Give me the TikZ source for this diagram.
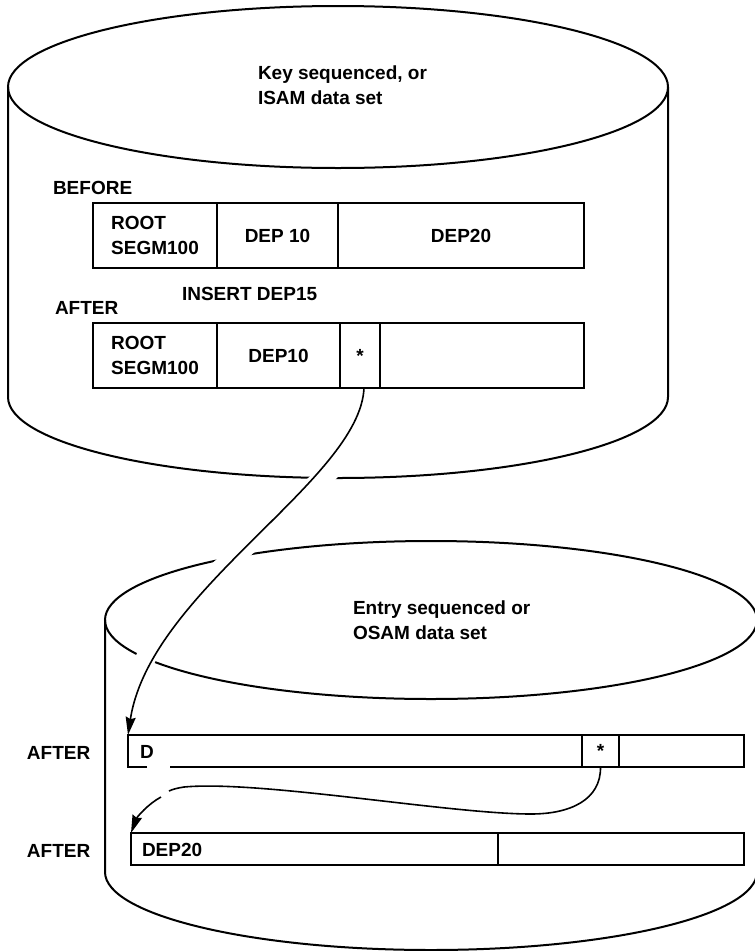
\documentclass[tikz,border=0pt]{standalone}
\usepackage{fontspec}
\setmainfont{Liberation Sans}
\usetikzlibrary{arrows.meta,calc}
\begin{document}
\begin{tikzpicture}[x=1pt,y=-1pt,
  lw/.style={line width=2pt},
  txt/.style={font=\bfseries\fontsize{19}{25}\selectfont, inner sep=0pt, outer sep=0pt},
  cell/.style={txt, draw, line width=2pt, anchor=north west, align=left, minimum height=65pt},
  lowcell/.style={cell, minimum height=32pt},
  conn/.style={line width=1.6pt, -{Stealth[length=18pt,width=10pt,inset=2pt]}},
  halo/.style={preaction={draw=white, line width=20pt, arrows=-, shorten <=30pt, shorten >=45pt}}
]
\useasboundingbox (0,0) rectangle (755,951);

% top cylinder (key sequenced / ISAM)
\draw[lw] (338,87) ellipse [x radius=330pt, y radius=81pt];
\draw[lw] (8,87) -- (8,397) arc [start angle=180, end angle=360, x radius=330pt, y radius=81pt] -- (668,87);

% bottom cylinder (entry sequenced / OSAM)
\draw[lw] (431,620) ellipse [x radius=326pt, y radius=79pt];
\draw[lw] (105,620) -- (105,872) arc [start angle=180, end angle=360, x radius=326pt, y radius=78pt] -- (757,620);

% labels
\node[txt, anchor=west, align=left] (ksds) at (258,85.4) {Key sequenced, or\\ISAM data set};
\node[txt, anchor=base west] (before) at (53,194) {BEFORE};
\node[txt, anchor=base west] (insert) at (182,300) {INSERT DEP15};
\node[txt, anchor=base west] (after1) at (55,314) {AFTER};
\node[txt, anchor=west, align=left] (esds) at (353,620.4) {Entry sequenced or\\OSAM data set};
\node[txt, anchor=base west] (after2) at (27,759) {AFTER};
\node[txt, anchor=base west] (after3) at (27,857) {AFTER};

% before row
\node[cell, minimum width=124pt] (b1) at (93,203) {ROOT\\SEGM100};
\node[cell, minimum width=121pt] (b2) at (b1.north east) {DEP 10};
\node[cell, minimum width=246pt] (b3) at (b2.north east) {DEP20};

% after row
\node[cell, minimum width=124pt] (a1) at (93,323) {ROOT\\SEGM100};
\node[cell, minimum width=123pt] (a2) at (a1.north east) {DEP10};
\node[cell, minimum width=40pt] (a3) at (a2.north east) {*};
\node[cell, minimum width=204pt] (a4) at (a3.north east) {};

% lower rows
\node[lowcell, draw=none, minimum width=454pt] (c1) at (128,735) {};
\node[lowcell, minimum width=37pt] (c2) at (c1.north east) {*};
\node[lowcell, minimum width=125pt] (c3) at (c2.north east) {};
\draw[lw] ($(c1.south west)+(19,0)$) -- (c1.south west) -- (c1.north west) -- (c1.north east) -- (c1.south east) -- ($(c1.south west)+(42,0)$);
\node[txt, anchor=base west] (dl) at (140,758) {D};

\node[lowcell, minimum width=367pt] (d1) at (131,833) {};
\node[lowcell, minimum width=246pt] (d2) at (d1.north east) {};
\node[txt, anchor=base west] (dep) at (142,856.5) {DEP20};

% connectors
\draw[conn, halo] ($(a3.south)+(4,0)$) .. controls (360,480) and (150,590) .. (c1.north west);

\coordinate (g1) at (169,791);
\coordinate (g2) at (161,797);
\draw[conn, arrows=-] (c2.south) .. controls (601,800) and (570,814) .. (531,814)
  .. controls (450,814) and (260,780) .. (184,787) .. controls (178,788) and (173,789) .. (g1);
\draw[conn] (g2) .. controls (148,804) and (137,817) .. (d1.north west);
\end{tikzpicture}
\end{document}
